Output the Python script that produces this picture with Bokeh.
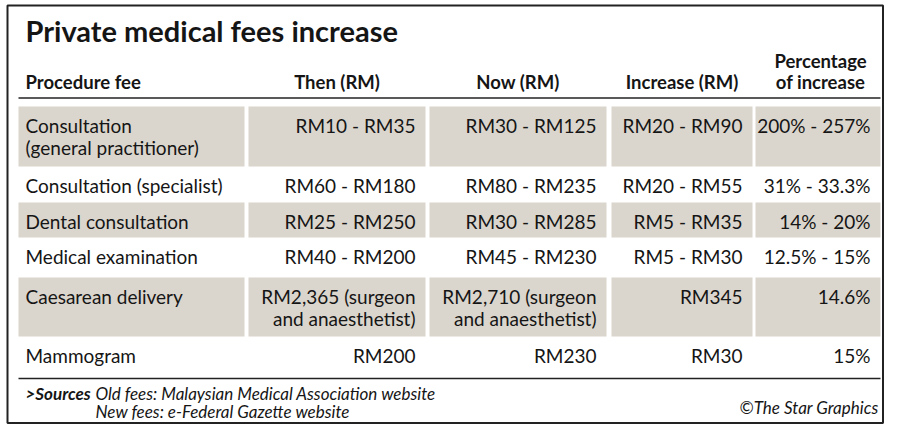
from bokeh.plotting import figure
from bokeh.models import Range1d, ColumnDataSource
from bokeh.core.properties import value
from bokeh.embed import file_html
from bokeh.resources import INLINE

# ---------------- data ----------------
title = "Private medical fees increase"
headers = ["Procedure fee", "Then (RM)", "Now (RM)", "Increase (RM)", "Percentage\nof increase"]
procedures = ["Consultation\n(general practitioner)", "Consultation (specialist)",
              "Dental consultation", "Medical examination", "Caesarean delivery", "Mammogram"]
then_fees = ["RM10 - RM35", "RM60 - RM180", "RM25 - RM250", "RM40 - RM200",
             "RM2,365 (surgeon\nand anaesthetist)", "RM200"]
now_fees = ["RM30 - RM125", "RM80 - RM235", "RM30 - RM285", "RM45 - RM230",
            "RM2,710 (surgeon\nand anaesthetist)", "RM230"]
increase_fees = ["RM20 - RM90", "RM20 - RM55", "RM5 - RM35", "RM5 - RM30", "RM345", "RM30"]
pct_increase = ["200% - 257%", "31% - 33.3%", "14% - 20%", "12.5% - 15%", "14.6%", "15%"]
sources_label = ">Sources"
sources_old = "Old fees: Malaysian Medical Association website"
sources_new = "New fees: e-Federal Gazette website"
credit = "\u00a9The Star Graphics"

# ---------------- layout ----------------
col_left = [18, 248, 429, 611, 755]
col_right = [244, 425, 606, 752, 885]
row_edges = [106, 166, 202, 237, 277, 336, 378]
shaded = [0, 2, 4]
FILL = "#dbd6cd"
INK = "#151515"
BODY = "Lato"
W, H = 884, 424

p = figure(width=W, height=H, x_range=Range1d(0, W), y_range=Range1d(H, 0),
           output_backend="svg", toolbar_location=None,
           x_axis_location=None, y_axis_location=None, min_border=0)
p.grid.visible = False
p.outline_line_color = None
p.background_fill_color = "white"
p.border_fill_color = "white"

# outer frame
p.quad(left=[7], right=[W - 1.5], top=[5], bottom=[H - 1.5], fill_color=None,
       line_color="#222222", line_width=2)

# shaded cells
ql, qr, qt, qb = [], [], [], []
for r in shaded:
    for c in range(5):
        ql.append(col_left[c]); qr.append(min(col_right[c], W - 4))
        qt.append(row_edges[r]); qb.append(row_edges[r + 1])
p.quad(left=ql, right=qr, top=qt, bottom=qb, fill_color=FILL, line_color=None)

# rules
p.segment(x0=[18, 18], x1=[W - 4, W - 4], y0=[97.5, 378], y1=[97.5, 378],
          line_color="#222222", line_width=1.5)

# title
p.text(x=[25], y=[30], text=[title], text_font=value(BODY), text_font_style="bold",
       text_font_size="29px", text_color=INK, text_baseline="middle", text_align="left")

# headers
hx, hy, ht, ha = [], [], [], []
for c, h in enumerate(headers):
    lines = h.split("\n")
    n = len(lines)
    for i, ln in enumerate(lines):
        if c == 0:
            hx.append(25); ha.append("left")
        else:
            hx.append((col_left[c] + col_right[c]) / 2); ha.append("center")
        hy.append(81 - (n - 1 - i) * 21)
        ht.append(ln)
p.text(x="x", y="y", text="t", text_align="a",
       source=ColumnDataSource(dict(x=hx, y=hy, t=ht, a=ha)),
       text_font=value(BODY), text_font_style="bold", text_font_size="18.5px",
       text_color=INK, text_baseline="middle")

# body cells
columns = [procedures, then_fees, now_fees, increase_fees, pct_increase]
bx, by, bt, ba = [], [], [], []
for c, col in enumerate(columns):
    for r, cell in enumerate(col):
        for i, ln in enumerate(cell.split("\n")):
            if c == 0:
                bx.append(25); ba.append("left")
            else:
                bx.append(min(col_right[c], W - 4) - 10); ba.append("right")
            by.append(row_edges[r] + 19 + i * 22)
            bt.append(ln)
p.text(x="x", y="y", text="t", text_align="a",
       source=ColumnDataSource(dict(x=bx, y=by, t=bt, a=ba)),
       text_font=value(BODY), text_font_size="19px", text_color=INK,
       text_baseline="middle")

# sources
p.text(x=[25], y=[393], text=[sources_label], text_font=value(BODY),
       text_font_style="bold italic", text_font_size="17px", text_color=INK,
       text_baseline="middle")
p.text(x=[95, 95], y=[393, 411], text=[sources_old, sources_new], text_font=value(BODY),
       text_font_style="italic", text_font_size="17px", text_color=INK,
       text_baseline="middle")
p.text(x=[W - 6], y=[407], text=[credit], text_font=value(BODY), text_align="right",
       text_font_style="italic", text_font_size="17px", text_color=INK,
       text_baseline="middle")

open("out.html", "w").write(file_html(p, INLINE))
